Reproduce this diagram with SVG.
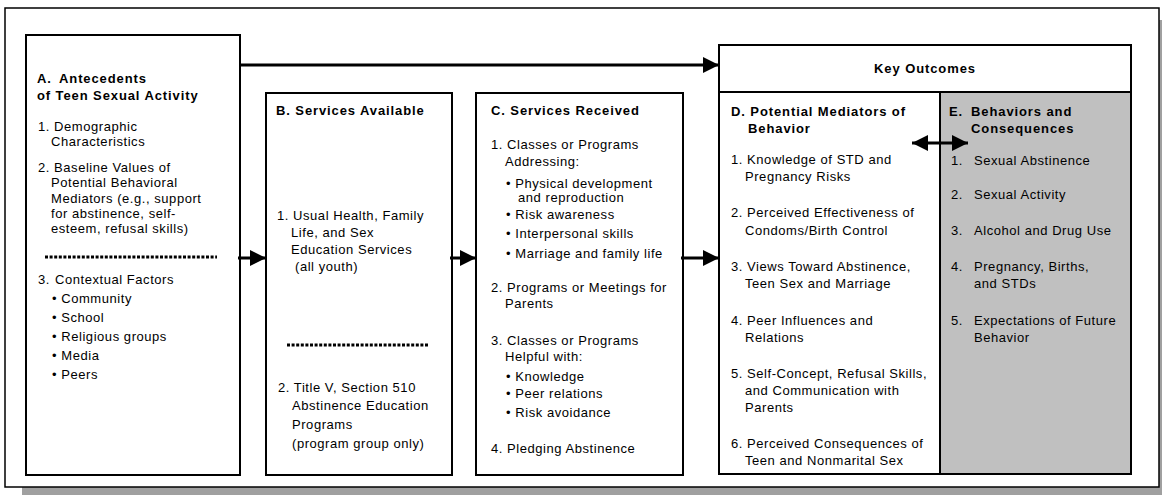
<svg xmlns="http://www.w3.org/2000/svg" width="1162" height="495" viewBox="0 0 1162 495">
<style>
text{font-family:"Liberation Sans",Arial,sans-serif;font-size:13px;fill:#000;letter-spacing:0.55px}
.b{font-weight:bold;letter-spacing:0.9px}
.box{fill:#fff;stroke:#000;stroke-width:2}
.dot{stroke:#000;stroke-width:3;stroke-dasharray:3 1.6;fill:none}
.ln{stroke:#000;stroke-width:3;fill:none}
</style>
<defs>
<marker id="ah" viewBox="0 0 10 10" refX="10" refY="5" markerUnits="userSpaceOnUse" markerWidth="18" markerHeight="16" orient="auto-start-reverse">
<path d="M0,0 L10,5 L0,10 Z" fill="#000"/>
</marker>
</defs>
<rect width="1162" height="495" fill="#fff"/>
<rect x="22" y="20" width="1145" height="480" fill="#a0a0a0"/>
<rect x="5" y="8" width="1154" height="479" fill="#fff" stroke="#000" stroke-width="1.5"/>

<g id="nodeA">
<rect class="box" x="26" y="35" width="214" height="440"/>
<text class="b" x="37" y="83">A.</text>
<text class="b" x="59" y="83">Antecedents</text>
<text class="b" x="37" y="100">of Teen Sexual Activity</text>
<text x="38" y="131">1. Demographic</text>
<text x="51" y="146">Characteristics</text>
<text x="38" y="172">2. Baseline Values of</text>
<text x="51" y="187">Potential Behavioral</text>
<text x="51" y="203">Mediators (e.g., support</text>
<text x="51" y="218">for abstinence, self-</text>
<text x="51" y="233">esteem, refusal skills)</text>
<line class="dot" x1="45" y1="257" x2="217" y2="257"/>
<text x="38" y="284">3.</text>
<text x="55" y="284">Contextual Factors</text>
<text x="52" y="303">• Community</text>
<text x="52" y="322">• School</text>
<text x="52" y="341">• Religious groups</text>
<text x="52" y="360">• Media</text>
<text x="52" y="379">• Peers</text>
</g>

<g id="nodeB">
<rect class="box" x="266" y="93" width="186" height="382"/>
<text class="b" x="276" y="115">B. Services Available</text>
<text x="277" y="220">1. Usual Health, Family</text>
<text x="291" y="237">Life, and Sex</text>
<text x="291" y="254">Education Services</text>
<text x="295" y="271">(all youth)</text>
<line class="dot" x1="287" y1="345" x2="428" y2="345"/>
<text x="278" y="392">2. Title V, Section 510</text>
<text x="292" y="410">Abstinence Education</text>
<text x="292" y="429">Programs</text>
<text x="292" y="448">(program group only)</text>
</g>

<g id="nodeC">
<rect class="box" x="476" y="93" width="207" height="382"/>
<text class="b" x="491" y="115">C. Services Received</text>
<text x="491" y="149">1. Classes or Programs</text>
<text x="505" y="166">Addressing:</text>
<text x="506" y="188">• Physical development</text>
<text x="518" y="202">and reproduction</text>
<text x="506" y="219">• Risk awareness</text>
<text x="506" y="238">• Interpersonal skills</text>
<text x="506" y="258">• Marriage and family life</text>
<text x="491" y="292">2. Programs or Meetings for</text>
<text x="505" y="308">Parents</text>
<text x="491" y="345">3. Classes or Programs</text>
<text x="505" y="361">Helpful with:</text>
<text x="506" y="381">• Knowledge</text>
<text x="506" y="398">• Peer relations</text>
<text x="506" y="417">• Risk avoidance</text>
<text x="491" y="453">4. Pledging Abstinence</text>
</g>

<g id="nodeKey">
<rect class="box" x="719" y="45" width="412" height="47"/>
<text class="b" x="925" y="73" text-anchor="middle">Key Outcomes</text>
</g>

<g id="nodeD">
<rect class="box" x="719" y="92" width="221" height="382"/>
<text class="b" x="731" y="116">D. Potential Mediators of</text>
<text class="b" x="748" y="133">Behavior</text>
<text x="731" y="164">1. Knowledge of STD and</text>
<text x="745" y="181">Pregnancy Risks</text>
<text x="731" y="217">2. Perceived Effectiveness of</text>
<text x="745" y="235">Condoms/Birth Control</text>
<text x="731" y="271">3. Views Toward Abstinence,</text>
<text x="745" y="288">Teen Sex and Marriage</text>
<text x="731" y="325">4. Peer Influences and</text>
<text x="745" y="342">Relations</text>
<text x="731" y="378">5. Self-Concept, Refusal Skills,</text>
<text x="745" y="395">and Communication with</text>
<text x="745" y="412">Parents</text>
<text x="731" y="448">6. Perceived Consequences of</text>
<text x="745" y="465">Teen and Nonmarital Sex</text>
</g>

<g id="nodeE">
<rect x="940" y="92" width="191" height="382" fill="#c0c0c0" stroke="#000" stroke-width="2"/>
<text class="b" x="949" y="116">E.</text>
<text class="b" x="971" y="116">Behaviors and</text>
<text class="b" x="971" y="133">Consequences</text>
<text x="951" y="165">1.</text><text x="974" y="165">Sexual Abstinence</text>
<text x="951" y="199">2.</text><text x="974" y="199">Sexual Activity</text>
<text x="951" y="235">3.</text><text x="974" y="235">Alcohol and Drug Use</text>
<text x="951" y="271">4.</text><text x="974" y="271">Pregnancy, Births,</text>
<text x="974" y="288">and STDs</text>
<text x="951" y="325">5.</text><text x="974" y="325">Expectations of Future</text>
<text x="974" y="342">Behavior</text>
</g>

<g id="connectors">
<line class="ln" x1="240" y1="65" x2="719" y2="65" marker-end="url(#ah)"/>
<line class="ln" x1="238" y1="258" x2="266" y2="258" marker-end="url(#ah)"/>
<line class="ln" x1="450" y1="258" x2="476" y2="258" marker-end="url(#ah)"/>
<line class="ln" x1="681" y1="258" x2="719" y2="258" marker-end="url(#ah)"/>
<line class="ln" x1="912" y1="143" x2="968" y2="143" marker-start="url(#ah)" marker-end="url(#ah)"/>
</g>
</svg>
